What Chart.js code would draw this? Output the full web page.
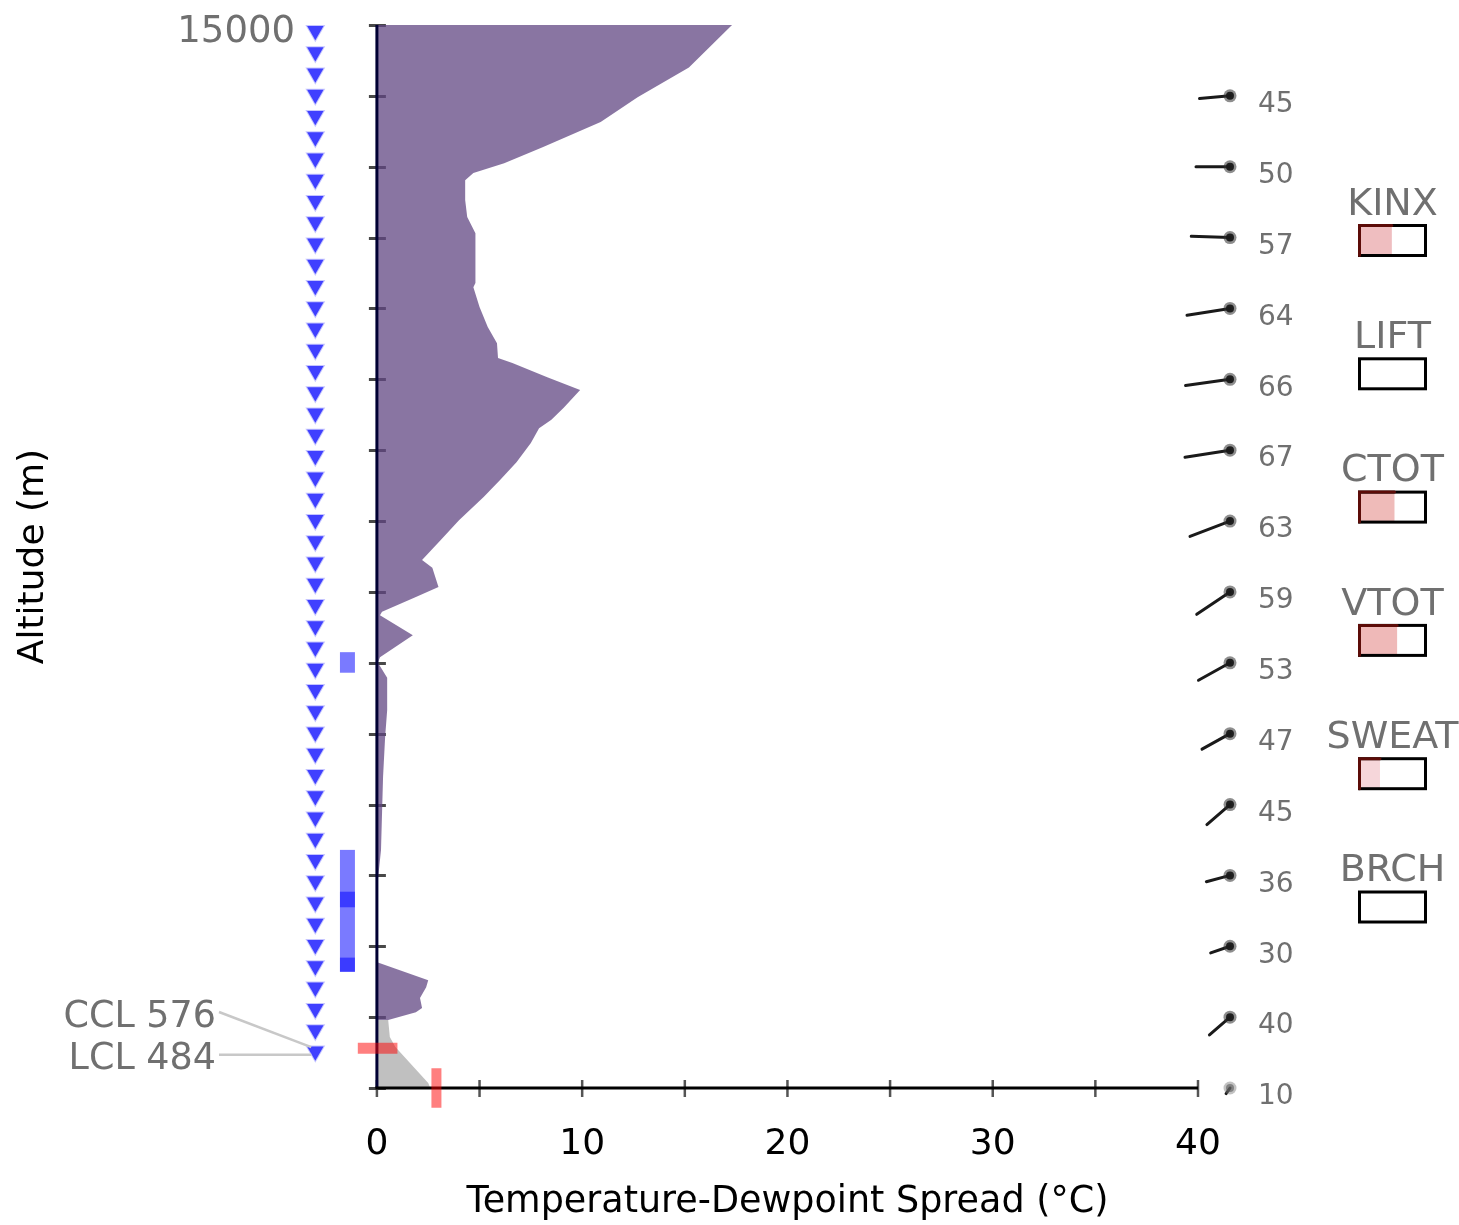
<!DOCTYPE html>
<html>
<head>
<meta charset="utf-8">
<title>Temperature-Dewpoint Spread</title>
<script src="https://cdn.jsdelivr.net/npm/chart.js@4.4.0/dist/chart.umd.min.js"></script>
<style>
  html, body { margin: 0; padding: 0; background: #fff; }
  canvas { display: block; }
</style>
</head>
<body>
<canvas id="chart" width="1459" height="1225"></canvas>
<script>
// upper profile (altitude m, spread degC), top down
const moistAlt = [15000, 14400, 13980, 13630, 13280, 13050, 12910, 12810, 12530, 12290, 12060, 11360, 11300, 11020,
  10740, 10510, 10300, 10230, 10030, 9850, 9600, 9430, 9310, 9100, 8830, 8580, 8340, 8010, 7730, 7450, 7340,
  7070, 6930, 6720, 6670, 6390, 6080, 6000, 5790, 5330, 4950, 4390, 3360, 2940, 1770, 1520, 1420, 1270, 1130, 1070, 960];
const moistSpread = [17.3, 15.2, 12.7, 10.9, 8.1, 6.2, 4.7, 4.3, 4.3, 4.4, 4.8, 4.8, 4.7, 5.0,
  5.4, 5.85, 5.9, 6.6, 8.3, 9.9, 9.1, 8.5, 7.9, 7.5, 6.8, 6.0, 5.2, 4.0, 3.1, 2.2, 2.7,
  3.0, 1.9, 0.25, 0.15, 1.75, 0.15, 0.05, 0.5, 0.5, 0.4, 0.3, 0.2, 0.05, 0.05, 2.5, 2.4, 2.1, 2.2, 1.9, 0.55];

// surface layer
const surfaceAlt = [960, 720, 580, 70, 0];
const surfaceSpread = [0.55, 0.63, 0.9, 2.5, 2.6];

// sounding levels (triangles)
const levelAlt = [520, 820, 1120, 1420, 1720, 2020, 2320, 2620, 2920, 3220, 3520, 3820, 4120, 4420, 4720,
  5020, 5320, 5620, 5920, 6220, 6520, 6820, 7120, 7420, 7720, 8020, 8320, 8620, 8920, 9220, 9520, 9820,
  10120, 10420, 10720, 11020, 11320, 11620, 11920, 12220, 12520, 12820, 13120, 13420, 13720, 14020,
  14320, 14620, 14920];

// cloud layers
const cloudBase = [1640, 1640, 2550, 5860];
const cloudTop = [3360, 1840, 2770, 6150];

// CCL / LCL and parcel markers
const cclAlt = 576;
const lclAlt = 484;
const parcelAlt = 560;
const surfaceMark = 2.9;

// winds
const windAlt = [0, 1000, 2000, 3000, 4000, 5000, 6000, 7000, 8000, 9000, 10000, 11000, 12000, 13000, 14000];
const windSpeed = [10, 40, 30, 36, 45, 47, 53, 59, 63, 67, 66, 64, 57, 50, 45];
const windDir = [215, 229, 251, 255, 229, 241, 241, 236, 249, 261, 262, 261, 272, 270, 265];

// stability indices (fill fraction of gauge)
const indexNames = ['KINX', 'LIFT', 'CTOT', 'VTOT', 'SWEAT', 'BRCH'];
const indexLevel = [0.49, 0, 0.53, 0.57, 0.31, 0];
const indexFill = ['#efbec0', '#efbec0', '#efbbb9', '#efb9b8', '#f6d6da', '#efbec0'];

// axes
const xTicks = [0, 5, 10, 15, 20, 25, 30, 35, 40];
const yTicks = [0, 1000, 2000, 3000, 4000, 5000, 6000, 7000, 8000, 9000, 10000, 11000, 12000, 13000, 14000, 15000];
const xTitle = 'Temperature-Dewpoint Spread (°C)';

const FONT = 'DejaVu Sans';
Chart.defaults.font.family = FONT;

const decor = {
  id: 'decor',
  beforeDatasetsDraw(chart) {
    const { ctx, scales: { x, y } } = chart;
    ctx.save();
    // cloud columns
    ctx.fillStyle = 'rgba(0,0,255,0.52)';
    const cl = x.getPixelForValue(-1.8), cr = x.getPixelForValue(-1.07);
    for (let i = 0; i < cloudBase.length; i++) {
      const t = y.getPixelForValue(cloudTop[i]);
      const b = y.getPixelForValue(cloudBase[i]);
      ctx.fillRect(cl, t, cr - cl, b - t);
    }
    // tick marks crossing the axes
    const x0 = x.getPixelForValue(0);
    const y0 = y.getPixelForValue(0);
    ctx.strokeStyle = 'rgba(40,40,40,0.85)';
    ctx.lineWidth = 3;
    yTicks.forEach(v => {
      const py = Math.round(y.getPixelForValue(v)) + 0.5;
      ctx.beginPath(); ctx.moveTo(x0 - 8, py); ctx.lineTo(x0 + 9, py); ctx.stroke();
    });
    ctx.strokeStyle = '#555';
    ctx.lineWidth = 2.5;
    xTicks.forEach(v => {
      const px = x.getPixelForValue(v);
      ctx.beginPath(); ctx.moveTo(px, y0 - 8); ctx.lineTo(px, y0 + 9); ctx.stroke();
    });
    ctx.restore();
  },
  afterDatasetDraw(chart, args) {
    if (args.index !== 3) return;
    const { ctx, scales: { x, y } } = chart;
    const x0 = x.getPixelForValue(0);
    const y0 = y.getPixelForValue(0);
    ctx.save();
    ctx.lineWidth = 3;
    ctx.strokeStyle = '#000033';
    ctx.beginPath(); ctx.moveTo(x0, y.getPixelForValue(15000)); ctx.lineTo(x0, y0); ctx.stroke();
    ctx.strokeStyle = '#000';
    ctx.beginPath(); ctx.moveTo(x0 - 1.5, y0); ctx.lineTo(x.getPixelForValue(40), y0); ctx.stroke();
    ctx.restore();
  },
  afterDraw(chart) {
    const { ctx, chartArea: area, scales: { x, y } } = chart;
    ctx.save();

    // x axis title, centred under the 0..40 range
    ctx.fillStyle = '#000';
    ctx.font = '36.5px "' + FONT + '"';
    ctx.textAlign = 'center';
    ctx.textBaseline = 'middle';
    ctx.fillText(xTitle, (x.getPixelForValue(0) + x.getPixelForValue(40)) / 2, area.bottom + 115);

    // CCL / LCL labels with leaders
    const endX = x.getPixelForValue(-3.2);
    const cclY = area.bottom - 70, lclY = area.bottom - 28;
    ctx.strokeStyle = '#c8c8c8';
    ctx.lineWidth = 2.5;
    ctx.beginPath(); ctx.moveTo(219, cclY - 6); ctx.lineTo(endX, y.getPixelForValue(cclAlt)); ctx.stroke();
    ctx.beginPath(); ctx.moveTo(219, y.getPixelForValue(lclAlt) + 1); ctx.lineTo(endX, y.getPixelForValue(lclAlt) + 1); ctx.stroke();
    ctx.fillStyle = '#707070';
    ctx.font = '36.5px "' + FONT + '"';
    ctx.textAlign = 'right';
    ctx.fillText('CCL ' + cclAlt, 216, cclY);
    ctx.fillText('LCL ' + lclAlt, 216, lclY);

    // wind barbs
    const bx = area.right + 32;
    windAlt.forEach((a, i) => {
      const py = y.getPixelForValue(a);
      const len = windSpeed[i] * 0.68;
      const rad = windDir[i] * Math.PI / 180;
      ctx.strokeStyle = '#1a1a1a';
      ctx.lineWidth = 3;
      ctx.lineCap = 'round';
      ctx.beginPath();
      ctx.moveTo(bx, py);
      ctx.lineTo(bx + Math.sin(rad) * len, py - Math.cos(rad) * len);
      ctx.stroke();
      ctx.fillStyle = windSpeed[i] < 20 ? 'rgba(120,120,120,0.45)' : 'rgba(50,50,50,0.55)';
      ctx.beginPath(); ctx.arc(bx, py, 6.5, 0, Math.PI * 2); ctx.fill();
      ctx.fillStyle = windSpeed[i] < 20 ? 'rgba(90,90,90,0.6)' : 'rgba(25,25,25,0.95)';
      ctx.beginPath(); ctx.arc(bx, py, 4, 0, Math.PI * 2); ctx.fill();
      ctx.fillStyle = '#707070';
      ctx.font = '28px "' + FONT + '"';
      ctx.textAlign = 'left';
      ctx.textBaseline = 'middle';
      ctx.fillText(String(windSpeed[i]), bx + 28, py + 9);
    });

    // index gauges
    const gx = 1359.5, gw = 66, gh = 30;
    indexNames.forEach((name, i) => {
      const top = area.top + 199 + i * 133.3;
      ctx.fillStyle = '#707070';
      ctx.font = '38px "' + FONT + '"';
      ctx.textAlign = 'center';
      ctx.textBaseline = 'middle';
      ctx.fillText(name, gx + gw / 2, top - 19);
      const fw = indexLevel[i] * gw;
      if (fw > 0) {
        ctx.fillStyle = indexFill[i];
        ctx.fillRect(gx, top + 1.5, fw, gh);
      }
      ctx.strokeStyle = '#000';
      ctx.lineWidth = 3;
      ctx.strokeRect(gx, top + 1.5, gw, gh);
      if (fw > 0) {
        ctx.strokeStyle = '#5c0c08';
        ctx.beginPath();
        ctx.moveTo(gx, top + 1.5 + gh); ctx.lineTo(gx, top + 1.5); ctx.lineTo(gx + fw, top + 1.5);
        ctx.stroke();
      }
    });
    ctx.restore();
  }
};

new Chart(document.getElementById('chart'), {
  type: 'line',
  data: {
    datasets: [
      {
        label: 'surface spread',
        data: [{ x: surfaceMark, y: 280 }, { x: surfaceMark, y: -280 }],
        borderColor: 'rgba(255,0,0,0.5)',
        borderWidth: 10,
        pointRadius: 0,
        fill: false,
        clip: false
      },
      {
        label: 'parcel',
        data: [{ x: -0.93, y: parcelAlt }, { x: 1.0, y: parcelAlt }],
        borderColor: 'rgba(255,0,0,0.5)',
        borderWidth: 11,
        pointRadius: 0,
        fill: false,
        clip: false
      },
      {
        label: 'levels',
        data: levelAlt.map(a => ({ x: -3, y: a })),
        showLine: false,
        pointStyle: 'triangle',
        rotation: 180,
        pointRadius: 9.5,
        pointBackgroundColor: '#4040ff',
        pointBorderColor: 'rgba(64,64,255,0.3)',
        pointBorderWidth: 2,
        clip: false
      },
      {
        label: 'spread',
        data: moistAlt.map((a, i) => ({ x: moistSpread[i], y: a })),
        borderColor: 'transparent',
        borderWidth: 0,
        backgroundColor: 'rgba(98,71,131,0.75)',
        fill: 'origin',
        pointRadius: 0,
        tension: 0
      },
      {
        label: 'surface layer',
        data: surfaceAlt.map((a, i) => ({ x: surfaceSpread[i], y: a })),
        borderColor: 'transparent',
        borderWidth: 0,
        backgroundColor: 'rgba(150,150,150,0.6)',
        fill: 'origin',
        pointRadius: 0,
        tension: 0
      }
    ]
  },
  options: {
    responsive: false,
    animation: false,
    indexAxis: 'y',
    layout: { padding: { left: 0, top: 25, right: 261, bottom: 0 } },
    plugins: {
      legend: { display: false },
      tooltip: { enabled: false }
    },
    scales: {
      x: {
        type: 'linear',
        min: -3.6,
        max: 40,
        afterBuildTicks: s => { s.ticks = xTicks.map(v => ({ value: v })); },
        afterFit: s => { s.height = 137; s.paddingLeft = 0; s.paddingRight = 0; },
        grid: { display: false, drawTicks: false },
        border: { display: false },
        ticks: {
          padding: 35,
          color: '#000',
          autoSkip: false,
          maxRotation: 0,
          font: { family: FONT, size: 36 },
          callback: v => (v % 10 === 0 ? String(v) : '')
        },
        title: { display: false }
      },
      y: {
        type: 'linear',
        min: 0,
        max: 15000,
        afterBuildTicks: s => { s.ticks = yTicks.map(v => ({ value: v })); },
        afterFit: s => { s.width = 303; s.paddingTop = 0; s.paddingBottom = 0; },
        grid: { display: false, drawTicks: false },
        border: { display: false },
        ticks: {
          padding: 8,
          labelOffset: 7,
          color: '#707070',
          autoSkip: false,
          font: { family: FONT, size: 37 },
          callback: v => (v === 15000 ? '15000' : '')
        },
        title: {
          display: true,
          text: 'Altitude (m)',
          color: '#000',
          font: { family: FONT, size: 36 },
          padding: { top: 12, bottom: 0 }
        }
      }
    }
  },
  plugins: [decor]
});
</script>
</body>
</html>
